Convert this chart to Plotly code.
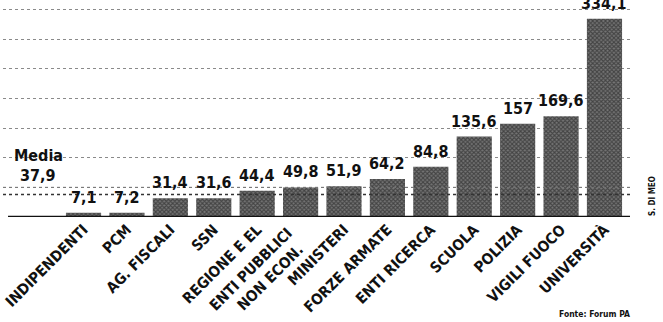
import plotly.graph_objects as go

# Rapporto dipendenti per settore della PA
categories = ["INDIPENDENTI", "PCM", "AG. FISCALI", "SSN", "REGIONE E EL",
              "ENTI PUBBLICI<br>NON ECON.", "MINISTERI", "FORZE ARMATE",
              "ENTI RICERCA", "SCUOLA", "POLIZIA", "VIGILI FUOCO", "UNIVERSITÀ"]
values = [7.1, 7.2, 31.4, 31.6, 44.4, 49.8, 51.9, 64.2, 84.8, 135.6, 157, 169.6, 334.1]
media = 37.9
grid_values = [50, 100, 150, 200, 250, 300, 350]


def fmt(v):
    return f"{v:g}".replace(".", ",")


xs = list(range(len(categories)))
FONT = "DejaVu Sans Condensed"
NBSP = "\u00a0"

# Etichette dell'asse x: le etichette su due righe vengono scritte come righe
# parallele, spostate lungo l'asse per restare nello stesso blocco inclinato
tick_pos, tick_text = [], []
for i, c in enumerate(categories):
    lines = c.split("<br>")
    if len(lines) == 1:
        tick_pos.append(i)
        tick_text.append(c)
    else:
        for k, line in enumerate(lines):
            tick_pos.append(i - 0.22 + 0.64 * k)
            tick_text.append(line + NBSP * (1 + 5 * k))

fig = go.Figure()
fig.add_trace(go.Bar(
    x=xs, y=values, width=0.81,
    marker=dict(color="#767676", line=dict(width=0),
                pattern=dict(shape="x", fgcolor="#121212", size=3, solidity=0.6)),
    hoverinfo="skip",
))

annotations = []
for x, v in zip(xs, values):
    annotations.append(dict(x=x, y=v, xref="x", yref="y", text=fmt(v),
                            showarrow=False, yanchor="bottom", yshift=4,
                            font=dict(family=FONT, size=16, color="#111", weight="bold")))

# Etichetta della media
annotations.append(dict(x=0.014, y=media, xref="paper", yref="y", text="Media",
                        showarrow=False, xanchor="left", yanchor="bottom", yshift=28,
                        font=dict(family=FONT, size=16, color="#111", weight="bold")))
annotations.append(dict(x=0.024, y=media, xref="paper", yref="y", text=fmt(media),
                        showarrow=False, xanchor="left", yanchor="bottom", yshift=8,
                        font=dict(family=FONT, size=16, color="#111", weight="bold")))

annotations.append(dict(x=1.003, y=-0.455, xref="paper", yref="paper", text="Fonte: Forum PA",
                        showarrow=False, xanchor="right", yanchor="middle",
                        font=dict(family=FONT, size=8.5, color="#111", weight="bold")))
annotations.append(dict(x=1.037, y=0.1, xref="paper", yref="paper", text="S. DI MEO",
                        showarrow=False, xanchor="center", yanchor="middle", textangle=-90,
                        font=dict(family=FONT, size=8, color="#111", weight="bold")))

shapes = [
    # linea della media e griglia a 50 sopra le barre
    dict(type="line", xref="paper", yref="y", x0=0, x1=1, y0=media, y1=media,
         line=dict(color="#333", width=1.5, dash="dot"), layer="above"),
    dict(type="line", xref="paper", yref="y", x0=0, x1=1, y0=50, y1=50,
         line=dict(color="#777", width=1, dash="dot"), layer="above"),
    # linea di base
    dict(type="line", xref="paper", yref="y", x0=0.008, x1=1, y0=0, y1=0,
         line=dict(color="#111", width=2.5), layer="above"),
]

fig.update_layout(
    width=663, height=322,
    margin=dict(l=3, r=33, t=4, b=105),
    paper_bgcolor="white", plot_bgcolor="white",
    showlegend=False,
    annotations=annotations,
    shapes=shapes,
    xaxis=dict(range=[-1.855, 12.588], tickvals=tick_pos, ticktext=tick_text,
               tickangle=-45, ticks="", showgrid=False, zeroline=False, showline=False,
               automargin=False,
               tickfont=dict(family=FONT, size=15, color="#111", weight="bold")),
    yaxis=dict(range=[0, 359], tickvals=grid_values, showticklabels=False,
               showgrid=True, gridcolor="#8a8a8a", griddash="dot", gridwidth=1,
               zeroline=False, showline=False, automargin=False),
)

fig.write_html("out.html")
